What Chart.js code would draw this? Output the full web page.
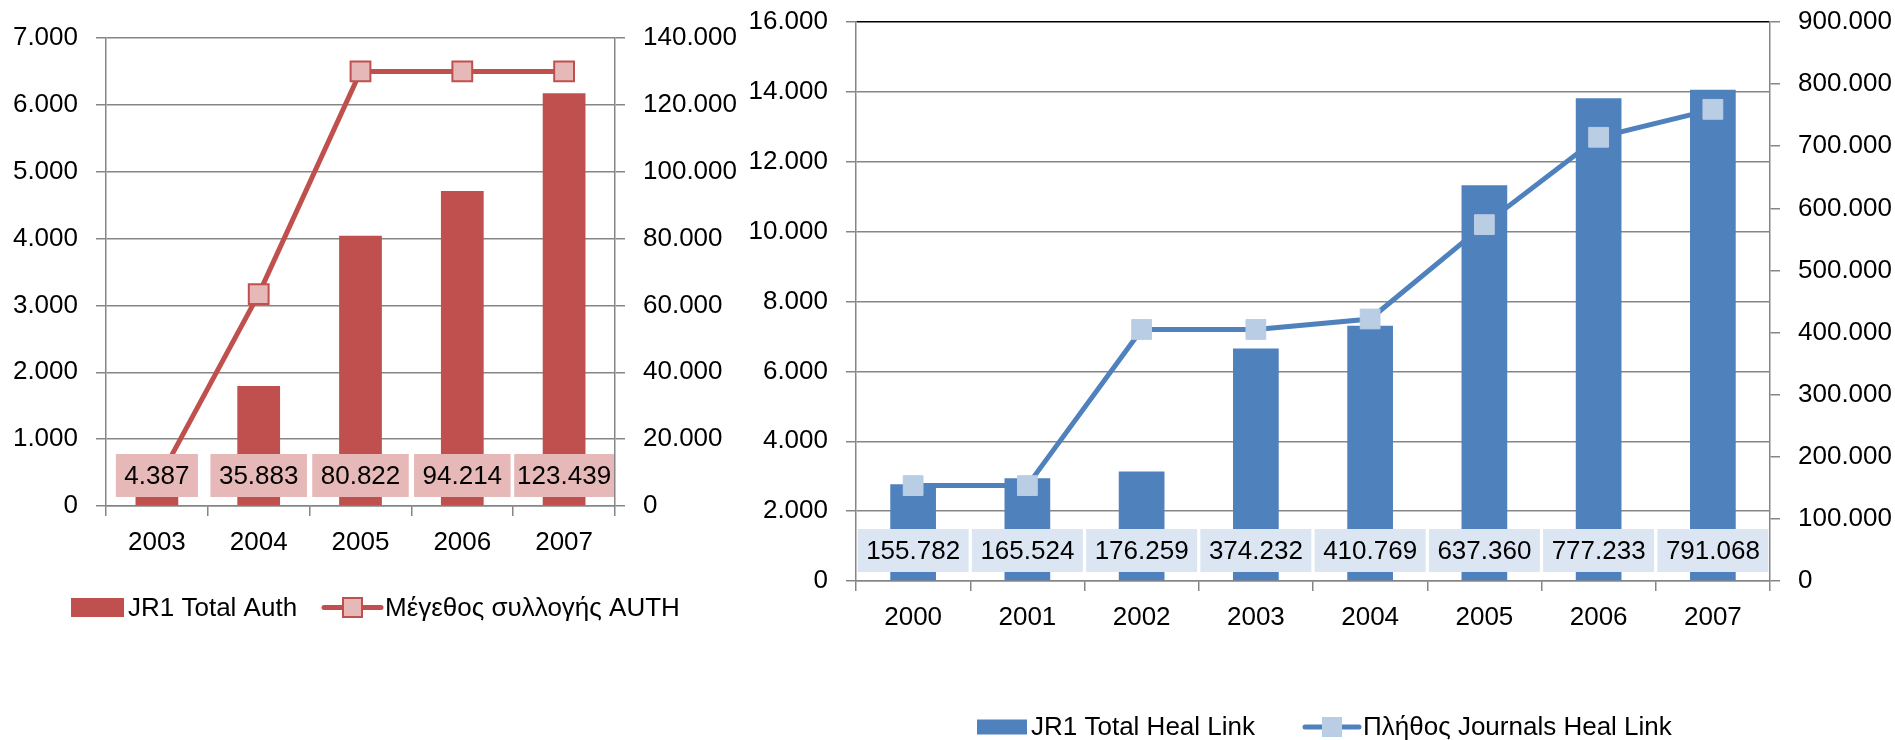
<!DOCTYPE html>
<html>
<head>
<meta charset="utf-8">
<script src="https://cdn.jsdelivr.net/npm/chart.js@4/dist/chart.umd.min.js"></script>
<style>
  body { margin: 0; background: #fff; }
  canvas { position: absolute; top: 0; }
  #authChart { left: 0; }
  #healChart { left: 740px; }
</style>
</head>
<body>
<canvas id="authChart" width="740" height="740"></canvas>
<canvas id="healChart" width="1155" height="740"></canvas>
<script>
// --- data: AUTH ---
const authYears = ['2003', '2004', '2005', '2006', '2007']
const authJR1 = [4387, 35883, 80822, 94214, 123439]
const authCollection = [350, 3170, 6500, 6500, 6500]
const authLeftMax = 7000, authLeftStep = 1000
const authRightMax = 140000, authRightStep = 20000

// --- data: Heal Link ---
const healYears = ['2000', '2001', '2002', '2003', '2004', '2005', '2006', '2007']
const healJR1 = [155782, 165524, 176259, 374232, 410769, 637360, 777233, 791068]
const healJournals = [2730, 2730, 7200, 7200, 7500, 10200, 12700, 13500]
const healLeftMax = 16000, healLeftStep = 2000
const healRightMax = 900000, healRightStep = 100000

const GRAY = '#868686'
const FONT = '"Liberation Sans", Arial, sans-serif'

Chart.defaults.font.family = FONT
Chart.defaults.font.size = 26
Chart.defaults.color = '#000'

// 12345 -> "12.345"
const fmt = v => String(v).replace(/\B(?=(\d{3})+(?!\d))/g, '.')

// labels in boxes at the bottom of each bar
const boxLabels = {
  id: 'boxLabels',
  afterDatasetsDraw(chart, args, opts) {
    const {ctx, chartArea} = chart
    const ds = chart.data.datasets[opts.dataset]
    const meta = chart.getDatasetMeta(opts.dataset)
    const catW = chart.scales.x.width / ds.data.length
    ctx.save()
    ctx.font = '26px ' + FONT
    ctx.textAlign = 'center'
    ctx.textBaseline = 'middle'
    meta.data.forEach((bar, i) => {
      const txt = fmt(ds.data[i])
      const w = Math.min(ctx.measureText(txt).width + 17, catW - 2)
      const h = 43
      const bottom = chartArea.bottom - 9
      ctx.fillStyle = opts.fill
      ctx.fillRect(bar.x - w / 2, bottom - h, w, h)
      ctx.fillStyle = '#000'
      ctx.fillText(txt, bar.x, bottom - h / 2 + 1)
    })
    ctx.restore()
  }
}

// legend drawn by hand (excel style: box + line with marker)
const handLegend = {
  id: 'handLegend',
  afterDraw(chart, args, opts) {
    const ctx = chart.ctx
    const [bar, line] = [chart.data.datasets[1], chart.data.datasets[0]]
    const y = opts.y
    ctx.save()
    ctx.font = '26px ' + FONT
    ctx.textBaseline = 'middle'
    ctx.fillStyle = bar.backgroundColor
    ctx.fillRect(opts.boxX, y - opts.boxH / 2, opts.boxW, opts.boxH)
    ctx.fillStyle = '#000'
    ctx.fillText(bar.label, opts.boxX + opts.boxW + 4, y + 1)

    ctx.strokeStyle = line.borderColor
    ctx.lineWidth = 5
    ctx.lineCap = 'round'
    ctx.beginPath()
    ctx.moveTo(opts.lineX, y)
    ctx.lineTo(opts.lineX + opts.lineW, y)
    ctx.stroke()
    const s = 19, mx = opts.lineX + opts.lineW / 2
    ctx.fillStyle = line.pointBackgroundColor
    ctx.fillRect(mx - s / 2, y - s / 2, s, s)
    ctx.lineWidth = line.pointBorderWidth
    ctx.strokeStyle = line.pointBorderColor
    ctx.strokeRect(mx - s / 2, y - s / 2, s, s)
    ctx.fillStyle = '#000'
    ctx.fillText(line.label, opts.lineX + opts.lineW + 4, y + 1)
    ctx.restore()
  }
}

// y axes: fixed width, no extra top/bottom padding from the labels
const fixaEixoY = largura => s => {
  s.width = largura
  s.paddingTop = 0
  s.paddingBottom = 0
}

const criaOpcoes = (cfg) => {
  return {
    responsive: false,
    animation: false,
    layout: { padding: { top: cfg.top, left: 0, right: 0, bottom: 0 } },
    plugins: {
      legend: { display: false },
      tooltip: { enabled: false },
      boxLabels: { dataset: 1, fill: cfg.labelFill },
      handLegend: cfg.legend
    },
    scales: {
      x: {
        grid: { drawOnChartArea: false, offset: true, color: GRAY, tickLength: 10, lineWidth: 1.5 },
        border: { color: GRAY, width: 1.5 },
        ticks: { padding: 11 },
        afterFit: s => { s.height = cfg.xHeight }
      },
      y: {
        position: 'left',
        min: 0, max: cfg.leftMax,
        ticks: { stepSize: cfg.leftStep, padding: 18, callback: v => fmt(v) },
        grid: {
          color: c => (cfg.topBlack && c.tick && c.tick.value === cfg.leftMax) ? '#000' : GRAY,
          tickColor: GRAY, tickLength: 10, lineWidth: 1.5
        },
        border: { color: GRAY, width: 1.5 },
        afterFit: fixaEixoY(cfg.leftW)
      },
      y1: {
        position: 'right',
        min: 0, max: cfg.rightMax,
        ticks: { stepSize: cfg.rightStep, padding: 18, callback: v => fmt(v) },
        grid: { drawOnChartArea: false, color: GRAY, tickLength: 10, lineWidth: 1.5 },
        border: { color: GRAY, width: 1.5 },
        afterFit: fixaEixoY(cfg.rightW)
      }
    }
  }
}

const criaGrafico = (id, labels, lineSet, barSet, opcoes) => {
  new Chart(document.getElementById(id), {
    type: 'bar',
    data: { labels: labels, datasets: [lineSet, barSet] },
    options: opcoes,
    plugins: [boxLabels, handLegend]
  })
}

// grafico AUTH
criaGrafico('authChart', authYears,
  {
    type: 'line', label: 'Μέγεθος συλλογής AUTH', data: authCollection, yAxisID: 'y', order: 0,
    borderColor: '#C0504D', borderWidth: 5, pointStyle: 'rect', pointRadius: 14, pointHoverRadius: 14,
    pointBackgroundColor: '#E6B9B8', pointBorderColor: '#C0504D', pointBorderWidth: 2
  },
  {
    type: 'bar', label: 'JR1 Total Auth', data: authJR1, yAxisID: 'y1', order: 1,
    backgroundColor: '#C0504D', barPercentage: 0.42, categoryPercentage: 1
  },
  criaOpcoes({
    top: 38, xHeight: 234, leftW: 106, rightW: 125,
    leftMax: authLeftMax, leftStep: authLeftStep, rightMax: authRightMax, rightStep: authRightStep,
    labelFill: '#E6B9B8', topBlack: false,
    legend: { y: 607.5, boxX: 71, boxW: 53, boxH: 19, lineX: 324, lineW: 57 }
  }))

// grafico Heal Link
criaGrafico('healChart', healYears,
  {
    type: 'line', label: 'Πλήθος Journals Heal Link', data: healJournals, yAxisID: 'y', order: 0,
    borderColor: '#4F81BD', borderWidth: 5, pointStyle: 'rect', pointRadius: 14, pointHoverRadius: 14,
    pointBackgroundColor: '#B9CDE5', pointBorderColor: '#B9CDE5', pointBorderWidth: 1
  },
  {
    type: 'bar', label: 'JR1 Total Heal Link', data: healJR1, yAxisID: 'y1', order: 1,
    backgroundColor: '#4F81BD', barPercentage: 0.40, categoryPercentage: 1
  },
  criaOpcoes({
    top: 22, xHeight: 159, leftW: 116, rightW: 125,
    leftMax: healLeftMax, leftStep: healLeftStep, rightMax: healRightMax, rightStep: healRightStep,
    labelFill: '#DCE6F2', topBlack: true,
    legend: { y: 727, boxX: 237, boxW: 50, boxH: 15, lineX: 565, lineW: 54 }
  }))
</script>
</body>
</html>
